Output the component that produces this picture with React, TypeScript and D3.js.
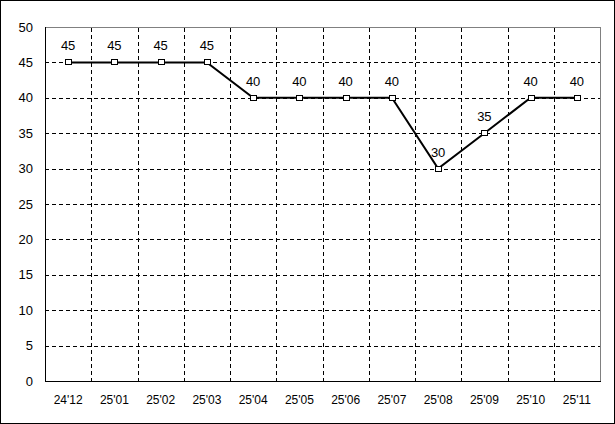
import React from "react";
import * as d3 from "d3";

const categories = ["24'12", "25'01", "25'02", "25'03", "25'04", "25'05", "25'06", "25'07", "25'08", "25'09", "25'10", "25'11"];
const values = [45, 45, 45, 45, 40, 40, 40, 40, 30, 35, 40, 40];
const yTicks = [0, 5, 10, 15, 20, 25, 30, 35, 40, 45, 50];

const W = 615;
const H = 424;
const plot = { left: 45, top: 27, right: 600, bottom: 381 };
const font = "'Liberation Sans', Arial, sans-serif";

export default function App() {
  const x = d3.scaleBand<string>().domain(categories).range([plot.left, plot.right]).padding(0);
  const y = d3.scaleLinear().domain([0, 50]).range([plot.bottom, plot.top]);
  const cx = (c: string) => (x(c) as number) + x.bandwidth() / 2;
  const line = d3
    .line<number>()
    .x((_, i) => cx(categories[i]))
    .y((d) => y(d));
  const boundaries = categories.slice(1).map((c) => Math.round(x(c) as number) + 0.5);

  return (
    <svg width={W} height={H} style={{ position: "absolute", left: 0, top: 0, display: "block" }}>
      <rect x={0} y={0} width={W} height={H} fill="#fff" />
      <rect x={0.5} y={0.5} width={W - 1} height={H - 1} fill="none" stroke="#000" />
      {/* plot frame top/right grey */}
      <line x1={plot.left} x2={plot.right + 0.5} y1={plot.top + 0.5} y2={plot.top + 0.5} stroke="#808080" />
      <line x1={plot.right + 0.5} x2={plot.right + 0.5} y1={plot.top} y2={plot.bottom} stroke="#808080" />
      {/* horizontal grid */}
      {yTicks
        .filter((t) => t > 0 && t < 50)
        .map((t) => (
          <line
            key={"h" + t}
            x1={plot.left}
            x2={plot.right}
            y1={Math.round(y(t)) + 0.5}
            y2={Math.round(y(t)) + 0.5}
            stroke="#000"
            strokeDasharray="4,3"
            shapeRendering="crispEdges"
          />
        ))}
      {/* vertical grid */}
      {boundaries.map((bx, i) => (
        <line
          key={"v" + i}
          x1={bx}
          x2={bx}
          y1={plot.top + 1}
          y2={plot.bottom}
          stroke="#000"
          strokeDasharray="4,3"
          shapeRendering="crispEdges"
        />
      ))}
      {/* axes */}
      <line x1={plot.left + 0.5} x2={plot.left + 0.5} y1={plot.top} y2={plot.bottom + 1} stroke="#000" shapeRendering="crispEdges" />
      <line x1={plot.left} x2={plot.right + 1} y1={plot.bottom + 0.5} y2={plot.bottom + 0.5} stroke="#000" shapeRendering="crispEdges" />
      {/* y tick labels */}
      {yTicks.map((t) => (
        <text key={"yt" + t} x={33} y={y(t) + 4.6} textAnchor="end" fontFamily={font} fontSize={13} fill="#000">
          {t}
        </text>
      ))}
      {/* x labels */}
      {categories.map((c) => (
        <text key={"xt" + c} x={cx(c)} y={404} textAnchor="middle" fontFamily={font} fontSize={12} fill="#000">
          {c}
        </text>
      ))}
      {/* line */}
      <path d={line(values) || ""} fill="none" stroke="#000" strokeWidth={2} />
      {/* markers */}
      {values.map((v, i) => (
        <rect
          key={"m" + i}
          x={Math.round(cx(categories[i])) - 3 + 0.5}
          y={Math.round(y(v)) - 3 + 0.5}
          width={6}
          height={5}
          fill="#fff"
          stroke="#000"
          strokeWidth={1}
        />
      ))}
      {/* data labels */}
      {values.map((v, i) => (
        <text key={"dl" + i} x={cx(categories[i])} y={y(v) - 12} textAnchor="middle" fontFamily={font} fontSize={13} fill="#000">
          {v}
        </text>
      ))}
    </svg>
  );
}
